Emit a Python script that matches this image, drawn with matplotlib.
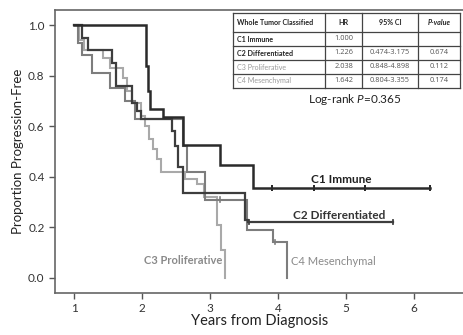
import matplotlib.pyplot as plt
from matplotlib.lines import Line2D

plt.rcParams['font.family'] = ['Lato', 'DejaVu Sans']
plt.rcParams['mathtext.fontset'] = 'custom'
plt.rcParams['mathtext.it'] = 'Lato:italic'
plt.rcParams['mathtext.rm'] = 'Lato'

# step curves: time at which each level starts, and the level
c1_t = [1.0, 2.06, 2.09, 2.12, 2.31, 2.60, 3.15, 3.63]
c1_s = [1.0, 0.84, 0.74, 0.67, 0.635, 0.525, 0.445, 0.356]
c1_end = 6.24
c1_cens = [3.91, 4.53, 5.29, 6.24]

c2_t = [1.0, 1.12, 1.20, 1.56, 1.62, 1.85, 1.92, 1.98, 2.44, 2.49, 2.53, 2.60, 3.52, 3.56]
c2_s = [1.0, 0.95, 0.90, 0.85, 0.76, 0.69, 0.66, 0.63, 0.58, 0.52, 0.44, 0.335, 0.23, 0.22]
c2_end = 5.69
c2_cens = [3.58, 5.69]

c3_t = [1.0, 1.08, 1.14, 1.42, 1.53, 1.72, 1.78, 1.85, 1.98, 2.05, 2.10, 2.16, 2.22, 2.28,
        2.63, 2.81, 2.91, 3.10, 3.17, 3.22]
c3_s = [1.0, 0.94, 0.90, 0.87, 0.83, 0.79, 0.74, 0.69, 0.64, 0.60, 0.55, 0.51, 0.47, 0.42,
        0.39, 0.37, 0.32, 0.21, 0.11, 0.0]
c3_end = 3.22

c4_t = [1.0, 1.06, 1.12, 1.27, 1.53, 1.75, 1.90, 2.60, 2.67, 2.93, 3.55, 3.93, 4.13]
c4_s = [1.0, 0.93, 0.88, 0.81, 0.75, 0.70, 0.63, 0.52, 0.42, 0.31, 0.19, 0.14, 0.0]
c4_end = 4.13
c4_cens = [3.15, 3.96]

tab_cols = ['Whole Tumor Classified', 'HR', '95% CI', 'P-value']
tab_names = ['C1 Immune', 'C2 Differentiated', 'C3 Proliferative', 'C4 Mesenchymal']
tab_hr = ['1.000', '1.226', '2.038', '1.642']
tab_ci = ['', '0.474-3.175', '0.848-4.898', '0.804-3.355']
tab_p = ['', '0.674', '0.112', '0.174']

W, H = 464, 335
fig = plt.figure(figsize=[W / 100, H / 100], dpi=100)
ax = fig.add_axes([55 / W, 42 / H, 409 / W, 283 / H])
ax.set_xlim(0.72, 6.74)
ax.set_ylim(-0.06, 1.06)

def curve(t, s, end, color, lw, cens=()):
	ax.step(t + [end], s + [s[-1]], where='post', color=color, lw=lw, solid_joinstyle='miter')
	for c in cens:
		lev = s[0]
		for ti, si in zip(t, s):
			if ti <= c:
				lev = si
		ax.plot([c, c], [lev - 0.008, lev + 0.008], color=color, lw=lw * 0.8)

curve(c3_t, c3_s, c3_end, '#a9a9a9', 1.5)
curve(c4_t, c4_s, c4_end, '#7d7d7d', 1.5, c4_cens)
curve(c2_t, c2_s, c2_end, '#3d3d3d', 1.6, c2_cens)
curve(c1_t, c1_s, c1_end, '#2a2a2a', 1.8, c1_cens)

ax.text(4.93, 0.39, 'C1 Immune', fontsize=8.5, fontweight='bold', color='#222222', ha='center', va='center')
ax.text(4.91, 0.245, 'C2 Differentiated', fontsize=8.5, fontweight='bold', color='#333333', ha='center', va='center')
ax.text(2.60, 0.07, 'C3 Proliferative', fontsize=8, fontweight='bold', color='#8a8a8a', ha='center', va='center')
ax.text(4.20, 0.065, 'C4 Mesenchymal', fontsize=8, color='#8a8a8a', ha='left', va='center')

for sp in ['left', 'bottom', 'top']:
	ax.spines[sp].set_color('#666666')
	ax.spines[sp].set_linewidth(1.2)
ax.spines['right'].set_visible(False)
ax.set_xticks([1, 2, 3, 4, 5, 6])
ax.set_yticks([0.0, 0.2, 0.4, 0.6, 0.8, 1.0])
ax.set_yticklabels(['0.0', '0.2', '0.4', '0.6', '0.8', '1.0'])
ax.tick_params(length=4, width=1, color='#555555', labelsize=8.5, labelcolor='#333333')
ax.set_xlabel('Years from Diagnosis', fontsize=10.5, color='#222222', labelpad=0)
ax.set_ylabel('Proportion Progression-Free', fontsize=9.5, color='#222222', labelpad=3)

# table, drawn in figure pixels
def fx(px):
	return px / W

def fy(py):
	return 1 - py / H

colx = [233, 325, 362, 418, 460]
rowy = [13, 32, 46, 60, 74, 88]
lc = '#444444'
for y in rowy:
	fig.add_artist(Line2D([fx(colx[0]), fx(colx[-1])], [fy(y), fy(y)], color=lc, lw=0.9))
for x in colx:
	fig.add_artist(Line2D([fx(x), fx(x)], [fy(rowy[0]), fy(rowy[-1])], color=lc, lw=0.9))

fs = 5.1
vfs = 5.3
hy = (rowy[0] + rowy[1]) / 2
fig.text(fx(colx[0] + 4), fy(hy), tab_cols[0], fontsize=fs, fontweight='bold', va='center', color='#222222')
fig.text(fx((colx[1] + colx[2]) / 2), fy(hy), tab_cols[1], fontsize=fs, fontweight='bold', ha='center', va='center', color='#222222')
fig.text(fx((colx[2] + colx[3]) / 2), fy(hy), tab_cols[2], fontsize=fs, fontweight='bold', ha='center', va='center', color='#222222')
fig.text(fx((colx[3] + colx[4]) / 2), fy(hy), tab_cols[3], fontsize=fs, fontweight='bold', style='italic', ha='center', va='center', color='#222222')

name_col = ['#222222', '#222222', '#9a9a9a', '#9a9a9a']
name_w = ['bold', 'bold', 'normal', 'normal']
for i in range(4):
	y = (rowy[i + 1] + rowy[i + 2]) / 2
	fig.text(fx(colx[0] + 4), fy(y), tab_names[i], fontsize=fs, fontweight=name_w[i], va='center', color=name_col[i])
	fig.text(fx((colx[1] + colx[2]) / 2 + 0.4), fy(y), tab_hr[i], fontsize=vfs, ha='center', va='center', color='#555555', family='Open Sans')
	fig.text(fx((colx[2] + colx[3]) / 2), fy(y), tab_ci[i], fontsize=vfs, ha='center', va='center', color='#555555', family='Open Sans')
	fig.text(fx((colx[3] + colx[4]) / 2), fy(y), tab_p[i], fontsize=vfs, ha='center', va='center', color='#555555', family='Open Sans')

fig.text(fx(355), fy(99), 'Log-rank $\\it{P}$=$\\it{0.365}$', fontsize=8.5, ha='center', va='center', color='#222222')

fig.savefig('out.png', dpi=100)
